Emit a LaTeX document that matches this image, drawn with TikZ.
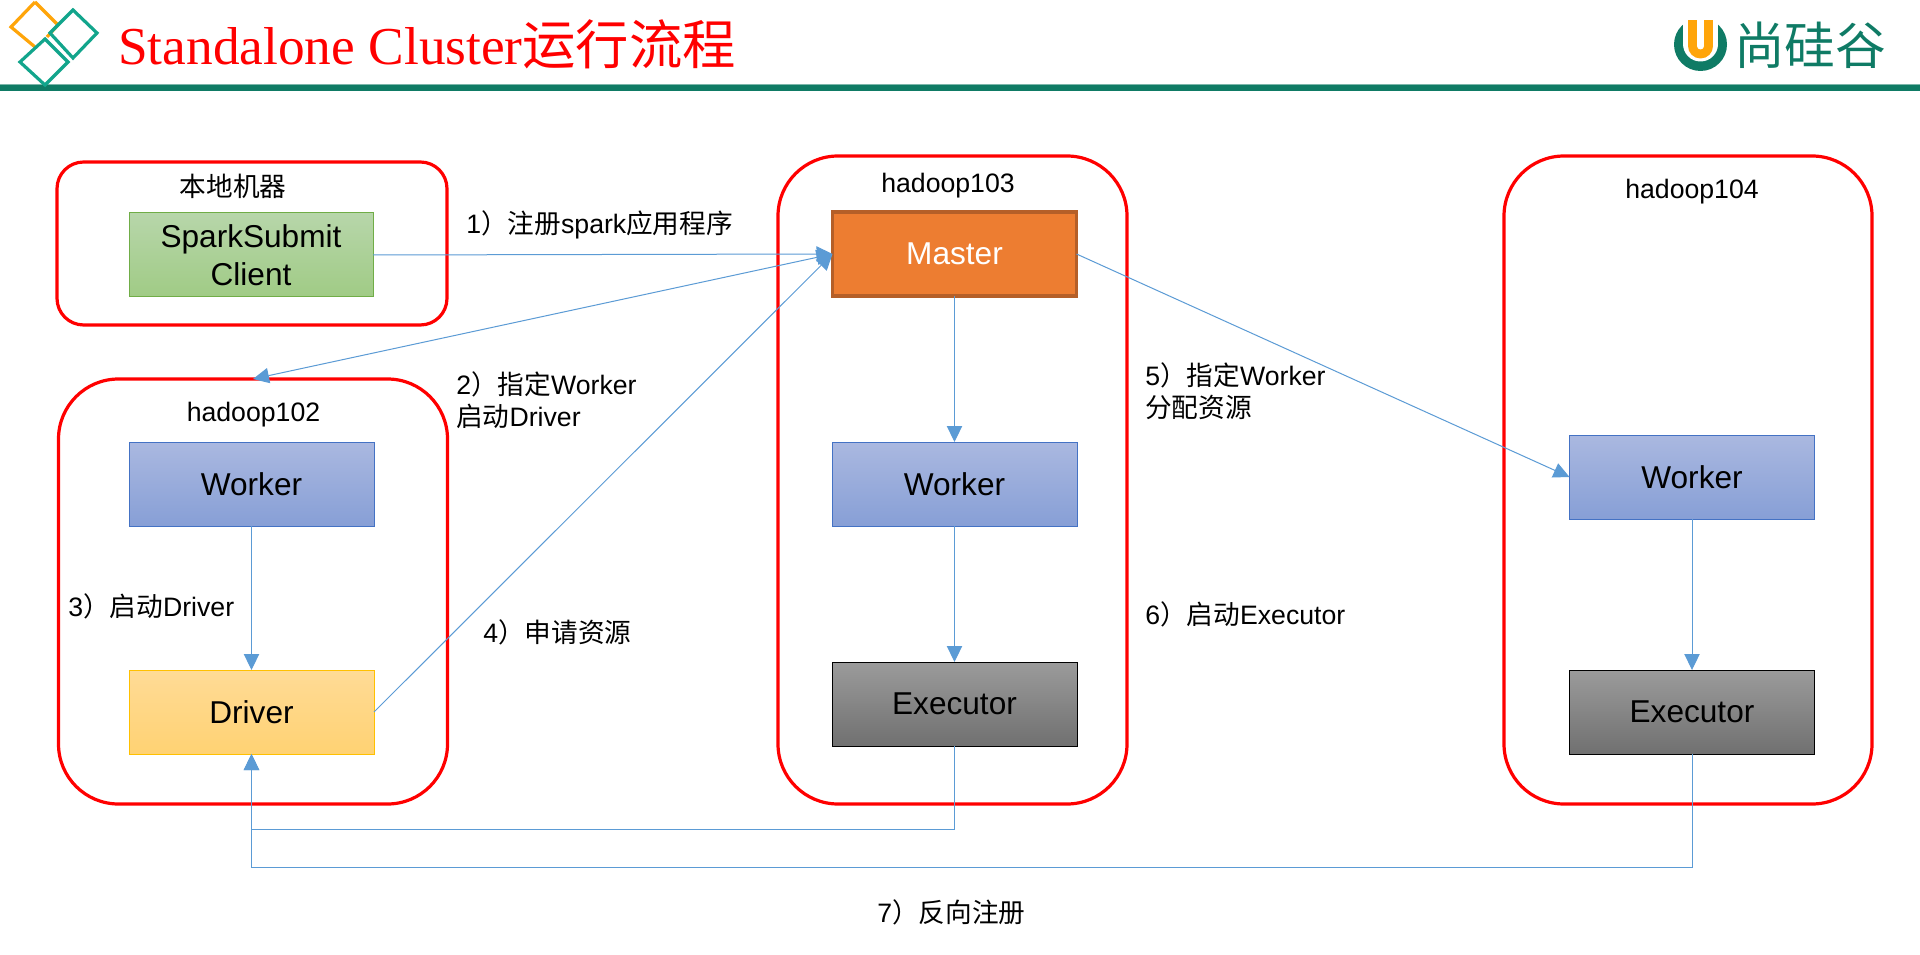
\documentclass[tikz,border=0pt]{standalone}
\usepackage{fontspec}
\setmainfont{Liberation Sans}
\newfontfamily\serifl{Liberation Serif}
\newfontfamily\cjk{Noto Sans CJK SC}
\usetikzlibrary{arrows.meta}
\definecolor{redline}{HTML}{FF0000}
\definecolor{conn}{HTML}{5B9BD5}
\definecolor{bar}{HTML}{0F7B65}
\definecolor{teald}{HTML}{12A58C}
\definecolor{orng}{HTML}{FFA50A}
\definecolor{wdraw}{HTML}{4472C4}
\definecolor{wtop}{HTML}{AAB8E0}
\definecolor{wbot}{HTML}{879FD6}
\definecolor{gdraw}{HTML}{70AD47}
\definecolor{gtop}{HTML}{B7D6AA}
\definecolor{gbot}{HTML}{A0CB85}
\definecolor{mdraw}{HTML}{B55F28}
\definecolor{mfill}{HTML}{ED7D31}
\definecolor{ddraw}{HTML}{FFC000}
\definecolor{dtop}{HTML}{FFDB96}
\definecolor{dbot}{HTML}{FFD273}
\definecolor{etop}{HTML}{9B9B9B}
\definecolor{ebot}{HTML}{707070}
\tikzset{
  sz/.style 2 args={minimum width=#1*0.75pt, minimum height=#2*0.75pt, inner sep=0pt, outer sep=0pt},
  hostbox/.style={draw=redline, line width=2.4pt, fill=white},
  big/.style={font=\fontsize{23.7}{28.5}\selectfont},
  lab/.style={font=\fontsize{20}{24}\selectfont, inner sep=0pt, align=left, anchor=west},
  hostlab/.style={font=\fontsize{20}{24}\selectfont, inner sep=0pt},
  cbox/.style={sz={245}{84}, line width=.75pt, big},
  workerbox/.style={cbox, draw=wdraw, top color=wtop, bottom color=wbot},
  execbox/.style={cbox, draw=black, top color=etop, bottom color=ebot},
  flow/.style={draw=conn, line width=.75pt, -{Triangle[length=12pt,width=11.5pt]}},
  diam/.style={line width=2.4pt, line join=miter},
}
\begin{document}
\begin{tikzpicture}[x=0.75pt,y=-0.75pt]
\useasboundingbox[fill=white] (0,0) rectangle (1920,955);
% header bar
\fill[bar!55] (0,84) rectangle (1920,85.5);
\fill[bar] (0,85) rectangle (1920,91);
% diamonds
\draw[diam, orng] (35,2) -- (58,25) -- (47,37) (35,47) -- (11,27) -- (35,2);
\draw[diam, teald] (73,10) -- (97,33) -- (73,58) -- (50,33) -- cycle;
\draw[diam, teald] (45,39) -- (68,62) -- (45,85) -- (20,62) -- cycle;
% title
\node[anchor=base west, inner sep=0pt, text=redline] (title) at (118,65)
  {\fontsize{40}{48}\selectfont\serifl Standalone Cluster\cjk 运行流程};
% logo
\fill[bar] (1700.5,44.5) circle[radius=26.5];
\fill[white] (1683,12) rectangle (1718,44);
\fill[white] (1700.5,44) circle[radius=17.5];
\fill[orng] (1688,20) rectangle (1713,46);
\fill[orng] (1700.5,46) circle[radius=12.5];
\fill[white] (1697,20) rectangle (1704,46);
\fill[white] (1700.5,46) circle[radius=3.5];
\node[inner sep=0pt, text=bar, font=\fontsize{38}{40}\selectfont\cjk] (logo) at (1810,45) {尚硅谷};
% host boxes
\node[hostbox, sz={390}{163}, rounded corners=20pt] (local) at (252,243.5) {};
\node[hostbox, sz={389}{425}, rounded corners=45pt] (h102) at (253,591.5) {};
\node[hostbox, sz={349}{648}, rounded corners=45pt] (h103) at (952.5,480) {};
\node[hostbox, sz={368}{648}, rounded corners=45pt] (h104) at (1688,480) {};
\node[hostlab] (lblLocal) at (233,186) {\cjk 本地机器};
\node[hostlab] (lbl102) at (253.5,415) {hadoop102};
\node[hostlab] (lbl103) at (948,186) {hadoop103};
\node[hostlab] (lbl104) at (1692,192) {hadoop104};
% boxes
\node[cbox, sz={244}{84}, draw=gdraw, top color=gtop, bottom color=gbot, align=center] (spark) at (251,255) {SparkSubmit\\Client};
\node[cbox, sz={244}{84}, line width=2.6pt, draw=mdraw, fill=mfill, text=white] (master) at (954.5,254) {Master};
\node[workerbox] (w102) at (251.5,484) {Worker};
\node[workerbox] (w103) at (954.5,484) {Worker};
\node[workerbox] (w104) at (1692,477) {Worker};
\node[cbox, draw=ddraw, top color=dtop, bottom color=dbot] (driver) at (251.5,712) {Driver};
\node[execbox] (e103) at (954.5,704) {Executor};
\node[execbox] (e104) at (1692,712) {Executor};
% connectors
\draw[flow] (spark.east) -- (master.west);
\draw[flow, {Triangle[length=12pt,width=11.5pt]}-{Triangle[length=12pt,width=11.5pt]}] (h102.north) -- (master.west);
\draw[flow] (driver.east) -- (master.west);
\draw[flow] (master.east) -- (w104.west);
\draw[flow] (master.south) -- (w103.north);
\draw[flow] (w103.south) -- (e103.north);
\draw[flow] (w102.south) -- (driver.north);
\draw[flow] (w104.south) -- (e104.north);
\draw[flow] (e103.south) -- ++(0,83) -| (driver.south);
\draw[flow] (e104.south) -- ++(0,113) -| (driver.south);
% step labels
\node[lab] (s1) at (466,225) {1{\cjk ）注册}spark{\cjk 应用程序}};
\node[lab] (s2) at (456,400) {2{\cjk ）指定}Worker\\{\cjk 启动}Driver};
\node[lab] (s3) at (68,606) {3{\cjk ）启动}Driver};
\node[lab] (s4) at (483,632) {4{\cjk ）申请资源}};
\node[lab] (s5) at (1145,391) {5{\cjk ）指定}Worker\\{\cjk 分配资源}};
\node[lab] (s6) at (1145,614) {6{\cjk ）启动}Executor};
\node[lab] (s7) at (877,912) {7{\cjk ）反向注册}};
\end{tikzpicture}
\end{document}
